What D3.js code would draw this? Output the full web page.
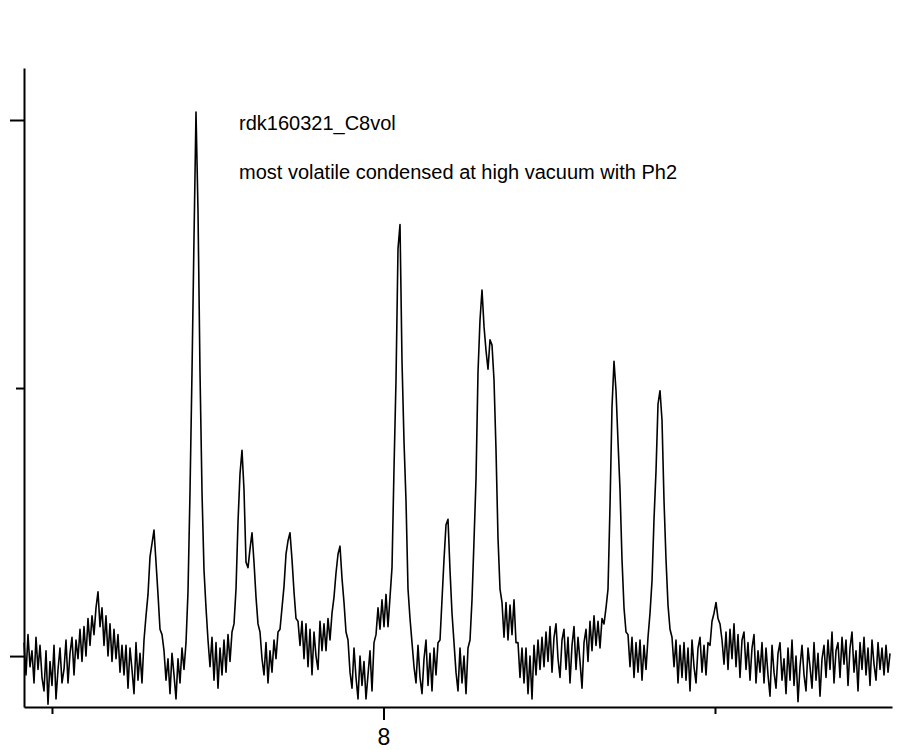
<!DOCTYPE html>
<html>
<head>
<meta charset="utf-8">
<script src="https://cdn.jsdelivr.net/npm/d3@7"></script>
<style>
  body { margin: 0; background: #fff; }
  .axis path, .axis line { stroke: #000; stroke-width: 2; }
  .axis text { font-family: "Liberation Sans", Arial, sans-serif; font-size: 23px; fill: #000; }
  .note { font-family: "Liberation Sans", Arial, sans-serif; font-size: 20px; fill: #000; }
</style>
</head>
<body>
<svg id="chart"></svg>
<script>
// spectral window (ppm), left edge -> right edge
var ppmStart = 8.5422
var ppmEnd = 7.2360

// intensity, evenly spaced from ppmStart to ppmEnd
var intensity = [
  2.5, -3.5, 4, -2, 1, -5, 3.5, -2.5, 2, -4,
  -6.5, 1, -9, -1, -5.5, 2, -8, -2.5, 1.5, -5,
  -2.5, 3, -5, 0.5, 3.5, -3.5, 3, -0.5, 5, -1,
  5.5, 0, 7, 2, 7.5, 4, 9, 12, 5.5, 9,
  2, 7.5, 0, 6, -1, 5, -0.5, 4, -3, 2,
  -3.5, 2, -6, 1.5, -2.5, -7, 2.5, -4.5, 0.5, -5,
  3, 7.5, 11.5, 18.5, 21, 23.5, 17.5, 11.5, 5, 4,
  1, -4.5, -0.5, -7, 0.5, -3.5, -8, -0.5, -5, 1.5,
  -2.5, 2.5, 12, 30.6, 53, 78, 101.5, 83, 53, 30.6,
  16, 9, 3, -2, 3.5, -4.5, 2.5, -6, 1.5, -3.5,
  3, -3, 4, -1, 4.5, 6, 12.5, 25, 34, 38.4,
  31, 17.5, 16.5, 20, 23, 17.5, 11, 6, 4.5, -0.5,
  -3.5, 2.5, -5, 1, -3, 3, -0.5, 4.5, 5, 9,
  13, 19, 21.5, 23, 18, 12, 7, 6.5, 2, 6.5,
  -0.5, 6, -2, 5, -3.5, 4.5, 0, -2.5, 6.5, 1,
  6, 1, 7, 3, 8, 11, 15.5, 19, 20.5, 14.5,
  10, 4.5, 3, -3, -6, 1.5, -4, -8, 0, -5.5,
  -1, -8, -3.5, 1, -6.5, 2.5, 4, 9, 5, 10.5,
  5.5, 11.5, 5.5, 11, 16.5, 35, 51.5, 76, 80.5, 55,
  40, 29, 12.5, 7, 2.5, -2, -5, 2, -4, -7,
  -0.5, 3, -5.5, 0.5, -6.5, 1.5, -3.5, 2.5, 3, 10.5,
  18, 24.5, 25.5, 16, 8, 2.5, -3, -6.5, 1.5, -5,
  0, -7, 1.5, 3, 10.5, 21.5, 33, 53, 62.7, 68.3,
  61.5, 57, 53.5, 59, 58, 51.5, 38.5, 22, 12.5, 10,
  3.5, 10, 3, 9.5, 4, 10.5, 2.5, 2.5, -4, 1.5,
  -5, 1.5, -7, 0, -8, 2, -3.5, 3, -2.5, 3.5,
  -2, 4.5, -1, 5.5, -3, 3.5, 6, -0.5, -4, 3,
  5, -2.5, 3.5, -5, 2, 5.5, -2.5, 3.5, -1, -6,
  2.5, 5, -1, 6.5, 1, 7.5, 2, 6.5, 1.5, 7,
  6, 9, 12.5, 28, 46.5, 55, 49.5, 40, 31, 18,
  9, 4.5, 4, -2, 3.5, -4, 2.5, -3, 3, -4.5,
  2, -2.5, 3.5, 8, 14, 25.5, 34.5, 47, 49.5, 44,
  29, 18, 9.5, 5, 3.5, -2, 3, -5, 2, -4,
  2.5, -4.5, 1.5, -6.5, 3, -2, -5, 1.5, 3.5, -3,
  2, -3.5, 2.5, 2, 6.5, 8, 10, 7, 6, 3,
  -1.5, 4.5, -2.5, 5, -0.5, 6, -2, 4, -4, 3,
  4.5, -2.5, 2.5, -4.5, 1.5, 4, -5, 1, -3, 2.5,
  -5, 1.5, -3.5, -7.5, 2, -3, -6, 0.5, 2.5, -4.5,
  -0.5, -7, 1.5, -4.5, 3, -5.5, 0, -8.5, -2, 2,
  -3.5, -6.5, 1.5, -2, -6, 2.5, -4.5, 0.5, -7.5, -0.5,
  2, -4, 3, -2.5, 4.5, -5, 1, 2.5, -4, 3.5,
  -1.5, 3, -5.5, 1.5, 4.5, -3, 1, -6.5, 2.5, -2.5,
  3.5, -3.5, 1.5, -5.5, 3, -1.5, -4.5, 2.5, -2.5, 1.5,
  -3.5, 2, -3, 0.5
]

// axis ticks
var xMajorTicks = [8]
var xMinorTicks = [8.5, 7.5]
var yMajorTicks = [0, 100]
var yMinorTicks = [50]

// annotation lines
var notes = ["rdk160321_C8vol", "most volatile condensed at high vacuum with Ph2"]

function drawChart() {
  var width = 906, height = 750
  var plotLeft = 24, plotRight = 892, plotTop = 68, plotBottom = 707

  var svg = d3.select("#chart").attr("width", width).attr("height", height)

  var xScale = d3.scaleLinear()
    .domain([ppmStart, 7.2330])
    .range([plotLeft, plotRight])

  var yScale = d3.scaleLinear()
    .domain([-9.5, 109.7])
    .range([plotBottom, plotTop])

  drawAxes()
  drawSpectrum()
  drawNotes()

  function drawAxes() {
    // x axis: minor ticks without labels, then the labelled major tick
    svg.append("g")
      .attr("class", "axis")
      .attr("transform", "translate(0," + plotBottom + ")")
      .call(d3.axisBottom(xScale).tickValues(xMinorTicks).tickSize(7).tickSizeOuter(0).tickFormat(""))

    svg.append("g")
      .attr("class", "axis")
      .attr("transform", "translate(0," + plotBottom + ")")
      .call(d3.axisBottom(xScale).tickValues(xMajorTicks).tickSize(13).tickSizeOuter(0).tickPadding(9).tickFormat(d3.format("d")))
      .select(".domain").remove()

    // y axis, no labels
    svg.append("g")
      .attr("class", "axis")
      .attr("transform", "translate(" + plotLeft + ",0)")
      .call(d3.axisLeft(yScale).tickValues(yMajorTicks).tickSize(14).tickSizeOuter(0).tickFormat(""))

    svg.append("g")
      .attr("class", "axis")
      .attr("transform", "translate(" + plotLeft + ",0)")
      .call(d3.axisLeft(yScale).tickValues(yMinorTicks).tickSize(8).tickSizeOuter(0).tickFormat(""))
      .select(".domain").remove()
  }

  function drawSpectrum() {
    var n = intensity.length
    var points = intensity.map(function(v, i) {
      return { ppm: ppmStart + (ppmEnd - ppmStart) * i / (n - 1), v: v }
    })

    var line = d3.line()
      .x(function(d) { return xScale(d.ppm) })
      .y(function(d) { return yScale(d.v) })

    svg.append("path")
      .datum(points)
      .attr("fill", "none")
      .attr("stroke", "#000")
      .attr("stroke-width", 1.6)
      .attr("stroke-linejoin", "round")
      .attr("d", line)
  }

  function drawNotes() {
    svg.selectAll(".note")
      .data(notes)
      .enter()
      .append("text")
      .attr("class", "note")
      .attr("x", 239)
      .attr("y", function(d, i) { return 130 + i * 49 })
      .text(function(d) { return d })
  }
}

drawChart()
</script>
</body>
</html>
